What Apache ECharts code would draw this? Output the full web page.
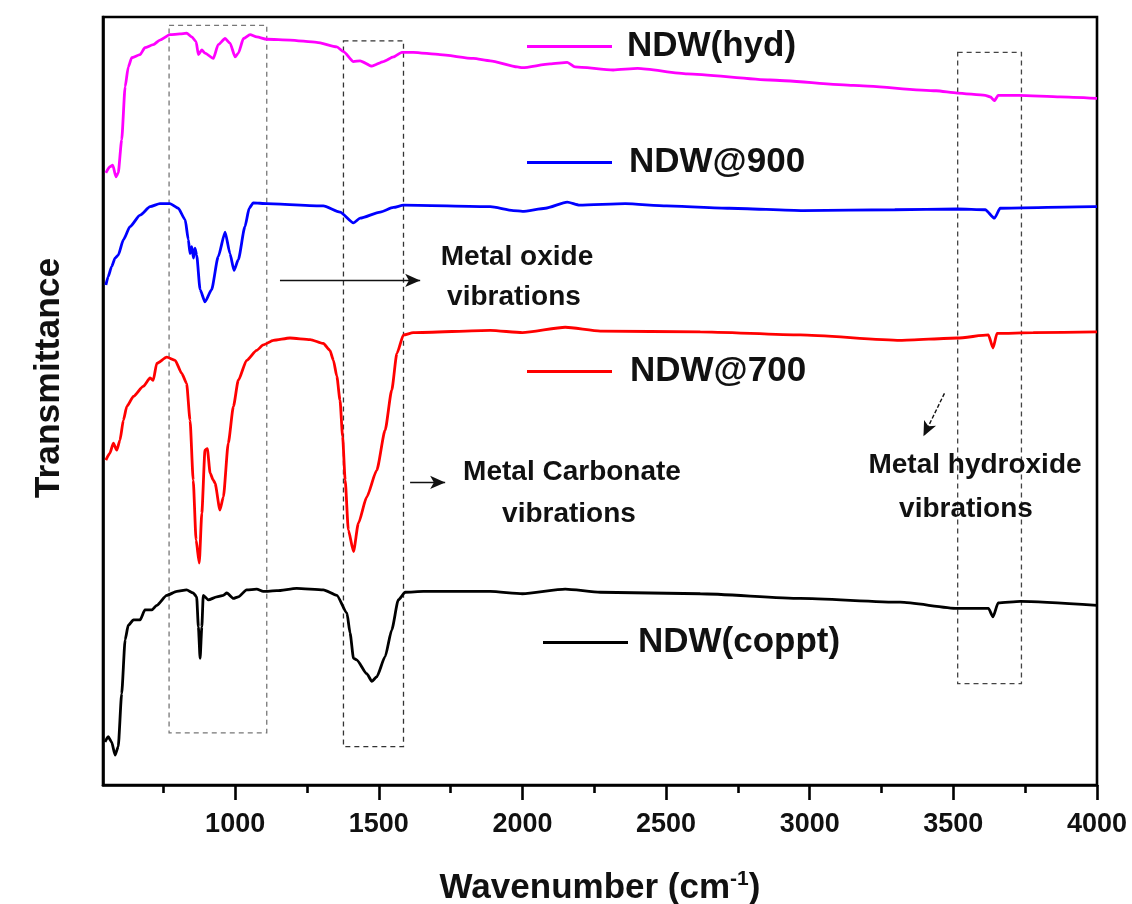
<!DOCTYPE html>
<html>
<head>
<meta charset="utf-8">
<title>FTIR spectra of NDW samples</title>
<script src="https://cdn.jsdelivr.net/npm/echarts@6/dist/echarts.min.js"></script>
<style>
  html, body { margin: 0; padding: 0; background: #fff; }
  #chart { width: 1132px; height: 904px; }
</style>
</head>
<body>
<div id="chart"></div>
<script>
// FTIR transmittance spectra (offset, arbitrary units) vs wavenumber (cm-1)
const ndwHyd = [
  [550,79.7],[564,80.5],[574,80.7],[585,79.2],[593,79.7],[605,84.0],[617,90.9],[628,93.5],
  [640,94.7],[669,95.1],[686,96.0],[715,96.4],[738,97.0],[773,97.7],[808,97.8],[831,97.9],
  [849,97.4],[864,96.8],[872,95.1],[884,95.7],[895,95.3],[924,94.6],[941,96.4],[965,97.2],
  [982,96.6],[1000,94.8],[1011,95.3],[1029,97.2],[1052,97.7],[1075,97.4],[1110,97.1],
  [1191,97.0],[1284,96.7],[1354,96.1],[1377,95.5],[1412,94.2],[1435,94.3],[1476,93.6],
  [1516,94.2],[1551,94.8],[1580,95.4],[1620,95.4],[1713,95.1],[1829,94.6],[1888,94.3],
  [1982,93.5],[2000,93.4],[2096,93.9],[2156,94.1],[2183,93.5],[2316,93.1],[2401,93.3],
  [2574,92.6],[2862,91.8],[3152,91.1],[3440,90.4],[3514,90.1],[3611,89.8],[3629,89.6],
  [3643,89.1],[3656,89.8],[3729,89.8],[3872,89.6],[4000,89.4]
];
const ndw900 = [
  [550,65.1],[558,66.2],[570,67.5],[582,68.6],[593,69.0],[611,71.0],[634,72.7],[669,74.2],
  [704,75.3],[738,75.7],[773,75.7],[802,75.1],[826,73.6],[837,71.0],[843,69.2],[849,70.1],
  [855,68.6],[860,69.9],[866,69.0],[878,64.5],[895,62.9],[918,64.5],[941,68.8],[965,72.0],
  [982,69.2],[996,67.0],[1011,68.4],[1034,72.7],[1049,75.1],[1063,75.8],[1110,75.7],
  [1307,75.4],[1365,74.6],[1412,73.2],[1435,73.8],[1505,74.6],[1551,75.2],[1586,75.5],
  [1888,75.3],[1968,74.8],[2000,74.7],[2080,75.1],[2156,75.9],[2199,75.5],[2358,75.7],
  [2502,75.4],[2720,75.1],[2977,74.8],[3296,74.9],[3514,75.0],[3611,74.9],[3643,73.8],
  [3663,75.1],[3989,75.3],[4000,75.3]
];
const ndw700 = [
  [550,42.3],[564,43.2],[576,44.5],[588,43.6],[599,44.9],[611,47.5],[623,49.3],[646,50.6],
  [680,51.9],[704,53.0],[715,52.7],[727,54.9],[762,55.7],[791,55.3],[814,53.6],[831,52.3],
  [843,47.5],[854,39.7],[864,31.9],[875,28.9],[884,35.4],[895,43.6],[903,43.8],[913,40.6],
  [924,39.7],[930,39.3],[947,35.8],[959,37.5],[976,44.5],[994,49.3],[1011,52.7],[1040,55.3],
  [1075,56.6],[1098,57.3],[1133,57.9],[1191,58.2],[1261,58.0],[1307,57.5],[1330,56.6],
  [1342,55.3],[1354,53.2],[1365,50.1],[1374,45.4],[1383,39.7],[1394,33.2],[1412,30.4],
  [1429,34.1],[1458,37.5],[1493,41.0],[1522,46.2],[1545,51.4],[1563,56.2],[1586,58.6],
  [1620,58.9],[1888,59.2],[2000,58.9],[2149,59.6],[2271,59.1],[2619,59.0],[2967,58.6],
  [3315,57.9],[3514,58.2],[3622,58.6],[3638,56.9],[3652,58.8],[3778,58.9],[4000,59.0]
];
const ndwCoppt = [
  [547,5.6],[558,6.3],[570,5.6],[582,3.9],[593,5.0],[605,11.9],[617,18.9],[628,20.8],
  [646,21.5],[669,21.5],[686,22.8],[710,22.8],[727,23.4],[762,24.7],[797,25.2],[831,25.4],
  [854,25.0],[866,24.5],[872,20.6],[878,16.5],[884,20.6],[889,24.7],[907,24.1],[936,24.5],
  [959,24.7],[971,25.0],[994,24.3],[1011,24.5],[1040,25.4],[1075,25.5],[1098,25.2],
  [1145,25.3],[1214,25.6],[1307,25.4],[1354,24.7],[1389,22.4],[1400,19.8],[1412,16.5],
  [1423,16.3],[1458,14.5],[1476,13.5],[1493,14.1],[1522,16.7],[1545,20.2],[1568,24.1],
  [1592,25.1],[1655,25.2],[1888,25.2],[2000,24.9],[2149,25.5],[2271,25.1],[2619,24.9],
  [2967,24.3],[3315,23.8],[3514,23.0],[3622,23.0],[3638,21.9],[3656,23.7],[3733,23.9],
  [4000,23.4]
];

const majorTicks = [1000, 1500, 2000, 2500, 3000, 3500, 4000];
const minorTicks = [750, 1250, 1750, 2250, 2750, 3250, 3750];

// Band regions highlighted with dashed boxes: [x1, yTop, x2, yBottom, colour]
const bandRegions = [
  [770, 98.9, 1110, 6.8, '#777'],
  [1377, 96.9, 1586, 5.0, '#333'],
  [3515, 95.4, 3737, 13.2, '#444']
];
// Pointer arrows: [xStart, yStart, xEnd, yEnd]
const pointerArrows = [
  [1156, 65.7, 1644, 65.7],
  [1609, 39.4, 1731, 39.4],
  [3469, 51.0, 3396, 45.4]
];

const FONT = '"Liberation Sans", Arial, Helvetica, sans-serif';

function legendFor(name, left, top, gap) {
  return {
    data: [name], left: left, top: top, padding: 0, orient: 'horizontal',
    selectedMode: false, icon: 'rect', itemWidth: 85, itemHeight: 3,
    textStyle: { fontFamily: FONT, fontSize: 35, fontWeight: 'bold', color: '#111', padding: [0, 0, 0, gap] }
  };
}

function lineSeries(name, data, color) {
  return {
    name: name, type: 'line', data: data, xAxisIndex: 0, yAxisIndex: 0,
    showSymbol: false, symbol: 'none', smooth: 0.2, smoothMonotone: 'x',
    lineStyle: { color: color, width: 2.8 }, itemStyle: { color: color },
    animation: false, z: 3
  };
}

const coppt = lineSeries('NDW(coppt)', ndwCoppt, '#000000');
coppt.markArea = {
  silent: true,
  data: bandRegions.map(r => [
    { coord: [r[0], r[1]], itemStyle: { color: 'rgba(0,0,0,0)', borderColor: r[4], borderWidth: 1.3, borderType: [5, 4] } },
    { coord: [r[2], r[3]] }
  ])
};
coppt.markLine = {
  silent: true, symbol: ['none', 'arrow'], symbolSize: [10, 15], animation: false,
  label: { show: false },
  data: pointerArrows.map((a, i) => [
    { coord: [a[0], a[1]], lineStyle: { color: '#111', width: 1.4, type: i === 2 ? [4, 2] : 'solid' } },
    { coord: [a[2], a[3]] }
  ])
};

function note(text, x, y) {
  return {
    type: 'text', x: x, y: y, z: 10,
    style: { text: text, fontFamily: FONT, fontSize: 28, fontWeight: 'bold', fill: '#111', align: 'center', verticalAlign: 'middle' }
  };
}

const chart = echarts.init(document.getElementById('chart'), null, { renderer: 'canvas' });
chart.setOption({
  backgroundColor: '#fff',
  animation: false,
  grid: { left: 103, top: 17, width: 994, height: 768, show: true, borderColor: '#000', borderWidth: 2.6, outerBoundsMode: 'none', containLabel: false },
  legend: [
    legendFor('NDW(hyd)', 527, 29, 10),
    legendFor('NDW@900', 527, 145, 12),
    legendFor('NDW@700', 527, 354, 13),
    legendFor('NDW(coppt)', 543, 625, 5)
  ],
  xAxis: [
    {
      type: 'value', min: 540, max: 4000, position: 'bottom',
      name: 'Wavenumber (cm{sup|-1})', nameLocation: 'middle', nameGap: 84,
      nameTextStyle: {
        fontFamily: FONT, fontSize: 35, fontWeight: 'bold', color: '#111',
        rich: { sup: { fontFamily: FONT, fontSize: 21, fontWeight: 'bold', color: '#111', verticalAlign: 'top', padding: [0, 0, 18, 0] } }
      },
      axisLine: { show: true, lineStyle: { color: '#000', width: 2.6 } },
      axisTick: { show: true, customValues: majorTicks, length: 15, inside: false, lineStyle: { color: '#000', width: 2.6 } },
      axisLabel: {
        show: true, customValues: majorTicks, margin: 26, formatter: v => String(v),
        fontFamily: FONT, fontSize: 27, fontWeight: 'bold', color: '#111'
      },
      splitLine: { show: false }
    },
    {
      type: 'value', min: 540, max: 4000, position: 'bottom',
      axisLine: { show: false },
      axisTick: { show: true, customValues: minorTicks, length: 8, inside: false, lineStyle: { color: '#000', width: 2.6 } },
      axisLabel: { show: false },
      splitLine: { show: false }
    }
  ],
  yAxis: {
    type: 'value', min: 0, max: 100,
    name: 'Transmittance', nameLocation: 'middle', nameGap: 36, nameRotate: 90,
    nameTextStyle: { fontFamily: FONT, fontSize: 35.5, fontWeight: 'bold', color: '#111', padding: [0, 0, 0, 46] },
    axisLine: { show: true, lineStyle: { color: '#000', width: 2.6 } },
    axisTick: { show: false }, axisLabel: { show: false }, splitLine: { show: false }
  },
  series: [
    lineSeries('NDW(hyd)', ndwHyd, '#ff00ff'),
    lineSeries('NDW@900', ndw900, '#0000ff'),
    lineSeries('NDW@700', ndw700, '#ff0000'),
    coppt
  ],
  graphic: [
    note('Metal oxide', 517, 257),
    note('vibrations', 514, 297),
    note('Metal Carbonate', 572, 472),
    note('vibrations', 569, 514),
    note('Metal hydroxide', 975, 465),
    note('vibrations', 966, 509)
  ]
});
</script>
</body>
</html>
